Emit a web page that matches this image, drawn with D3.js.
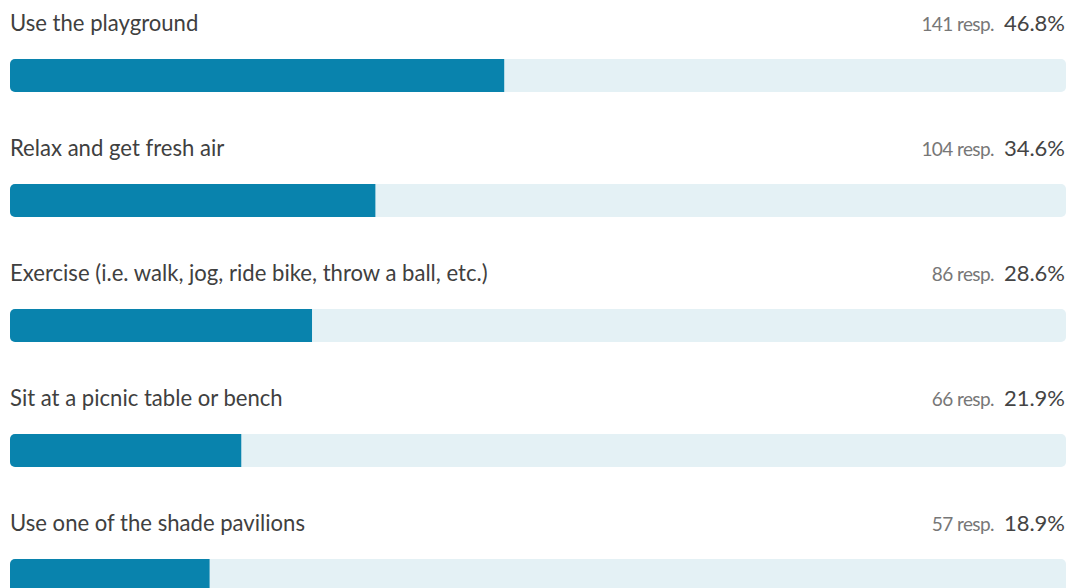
<!DOCTYPE html>
<html><head><meta charset="utf-8">
<script src="https://cdn.jsdelivr.net/npm/d3@7"></script>
<style>html,body{margin:0;padding:0;background:#fff;overflow:hidden}</style>
</head><body>
<svg id="c" width="1073" height="588"></svg>
<script>
const categories = ["Use the playground","Relax and get fresh air","Exercise (i.e. walk, jog, ride bike, throw a ball, etc.)","Sit at a picnic table or bench","Use one of the shade pavilions"];
const responses = [141,104,86,66,57];
const percents = [46.8,34.6,28.6,21.9,18.9];

const svg = d3.select("#c");
const left = 10, right = 1066;
const x = d3.scaleLinear().domain([0,100]).range([left,right]);
const y = d3.scaleBand().domain(categories).range([0, 625]).paddingInner(0).paddingOuter(0);
const barOff = 59, barH = 33;
const labelFont = "Lato, 'Source Sans Pro', sans-serif";

const defs = svg.append("defs");
const g = svg.selectAll("g.row").data(categories).join("g").attr("class","row")
  .attr("transform", d => `translate(0,${y(d)})`);

g.each(function(d,i){
  defs.append("clipPath").attr("id","clip"+i).append("rect")
    .attr("x", left).attr("y", barOff).attr("width", right-left).attr("height", barH).attr("rx",5);
});

g.append("rect").attr("x", left).attr("y", barOff).attr("width", right-left).attr("height", barH)
  .attr("rx",5).attr("fill","#e4f1f5");
g.append("rect").attr("x", left).attr("y", barOff)
  .attr("width", (d,i) => x(percents[i]) - left).attr("height", barH)
  .attr("clip-path",(d,i)=>`url(#clip${i})`).attr("fill","#0983ad");

g.append("text").attr("x", left).attr("y", 31).text(d=>d)
  .attr("font-family", labelFont).attr("font-size", 22.1).attr("fill","#404040");

const rt = g.append("text").attr("x", 1065).attr("y", 31).attr("text-anchor","end")
  .attr("font-family", labelFont);
rt.append("tspan").text((d,i)=>responses[i]+" resp.").attr("font-size",19).attr("fill","#777").attr("letter-spacing",-0.6);
rt.append("tspan").text((d,i)=>percents[i].toFixed(1)+"%").attr("dx",10).attr("font-size",22).attr("fill","#444");
</script>
</body></html>
